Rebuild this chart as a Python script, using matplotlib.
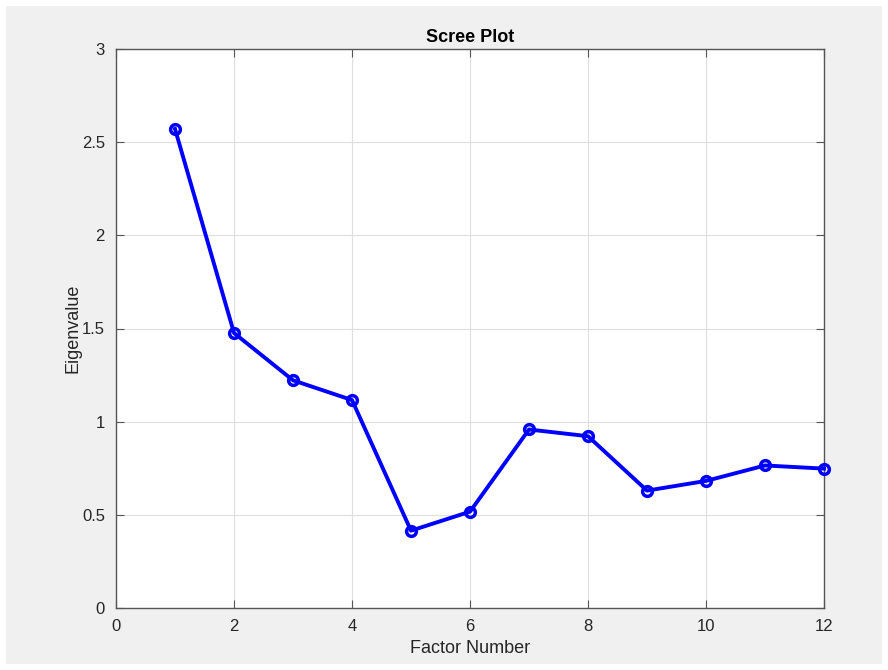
import matplotlib
matplotlib.use("Agg")
import matplotlib.pyplot as plt
from matplotlib.patches import Rectangle

# データ
factor_number = [1, 2, 3, 4, 5, 6, 7, 8, 9, 10, 11, 12]
eigenvalue = [2.571, 1.476, 1.222, 1.116, 0.415, 0.517, 0.958, 0.922, 0.630, 0.682, 0.765, 0.748]
x_ticks = [0, 2, 4, 6, 8, 10, 12]
y_ticks = [0, 0.5, 1, 1.5, 2, 2.5, 3]
y_ticklabels = ["0", "0.5", "1", "1.5", "2", "2.5", "3"]

plt.rcParams["font.family"] = ["Liberation Sans", "DejaVu Sans"]

fig = plt.figure(figsize=(8.88, 6.70), dpi=100, facecolor="white")
# 灰色の背景 (MATLAB風)
fig.patches.append(Rectangle((6 / 888, 6 / 670), 876 / 888, 658 / 670,
                             transform=fig.transFigure, facecolor="#f0f0f0",
                             edgecolor="none", zorder=-10))

ax = fig.add_axes([116 / 888, 1 - 608 / 670, 708 / 888, 559 / 670])
ax.set_facecolor("white")

ax.plot(factor_number, eigenvalue, color="#0000ff", linewidth=2.8,
        marker="o", markersize=7, markerfacecolor="none",
        markeredgewidth=2.5, clip_on=False, zorder=3)

ax.set_xlim(0, 12)
ax.set_ylim(0, 3)
ax.set_xticks(x_ticks)
ax.set_yticks(y_ticks)
ax.set_yticklabels(y_ticklabels)
ax.grid(True, color="#dedede", linewidth=0.8)
ax.set_axisbelow(True)

for s in ax.spines.values():
    s.set_color("#555555")
    s.set_linewidth(1.0)
ax.tick_params(direction="in", length=6, width=0.8, color="#555555",
               labelsize=12, labelcolor="#262626", top=True, right=True, pad=8)

ax.set_title("Scree Plot", fontsize=13, fontweight="bold", pad=5)
ax.set_xlabel("Factor Number", fontsize=13, color="#262626", labelpad=4)
ax.set_ylabel("Eigenvalue", fontsize=13, color="#262626", labelpad=0)

fig.savefig("out.png", dpi=100, facecolor="white")
